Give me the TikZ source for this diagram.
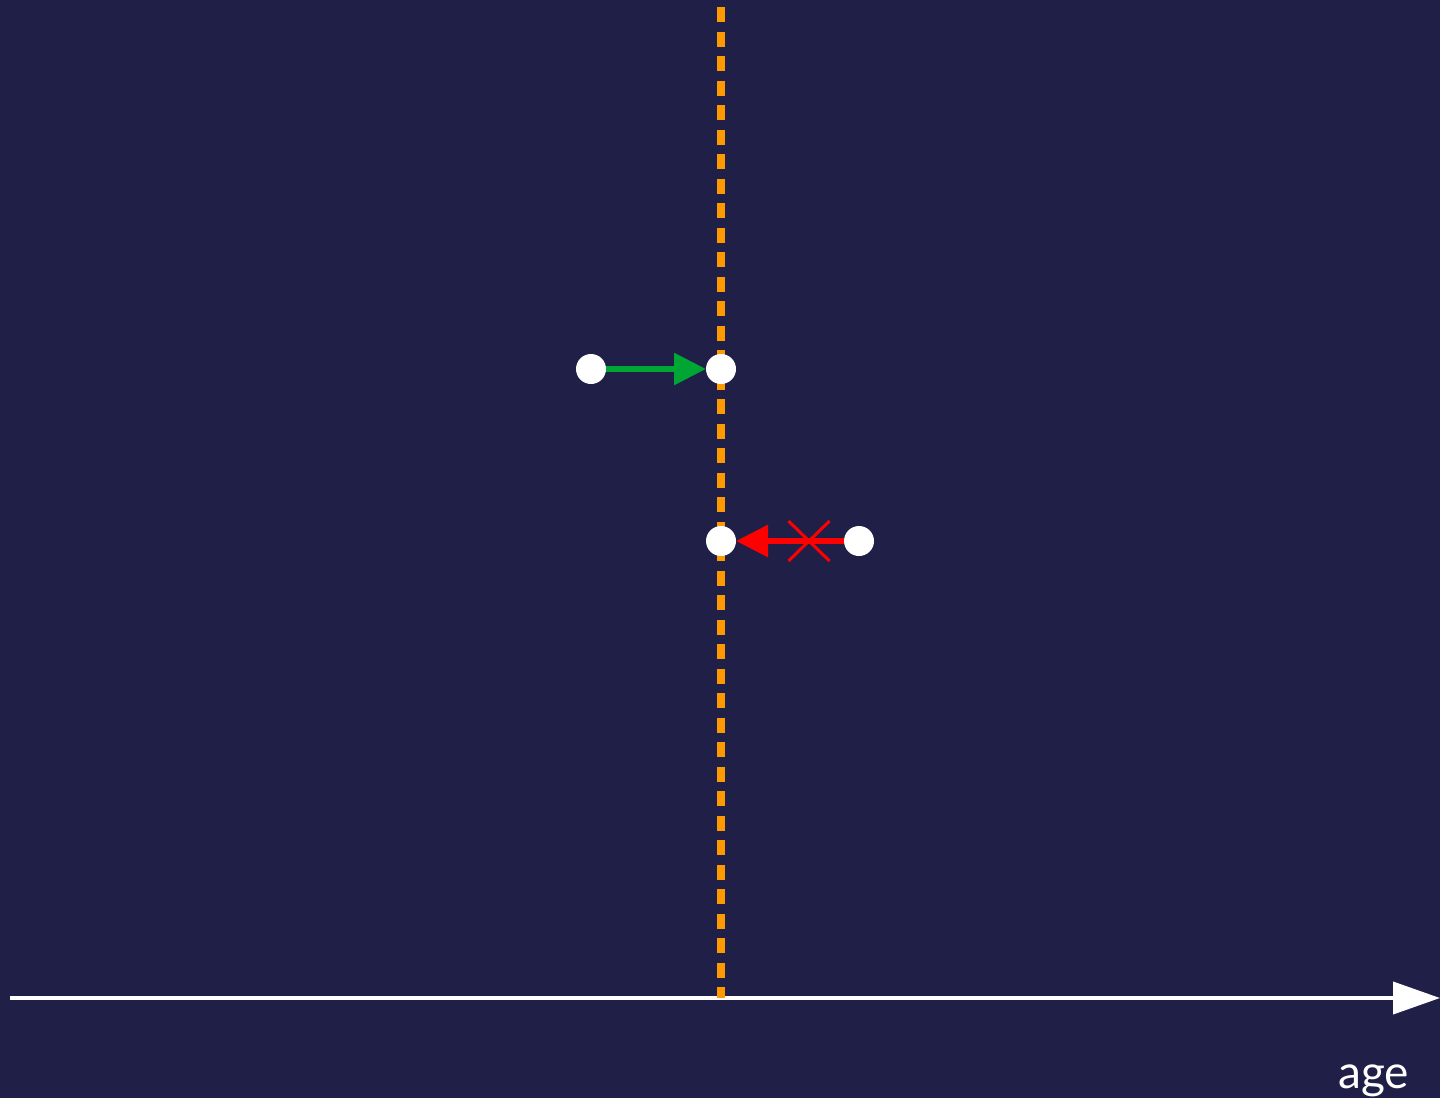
\documentclass[tikz,border=0pt]{standalone}
\usepackage{fontspec}
\setmainfont{Lato}
\usetikzlibrary{arrows.meta, shapes.misc}

\definecolor{navy}{RGB}{32,31,72}
\definecolor{cutoff}{RGB}{255,153,0}
\definecolor{okgreen}{RGB}{0,166,51}

\begin{document}
\begin{tikzpicture}[x=0.5pt, y=-0.5pt,
    person/.style={circle, fill=white, inner sep=0pt, outer sep=0pt, minimum size=15pt},
    move/.style={line width=3pt, -{Triangle[length=16pt, width=15.5pt]}}]
    \fill[navy] (0,0) rectangle (1440,1098);
    \useasboundingbox (0,0) rectangle (1440,1098);

    % age axis
    \coordinate (start) at (10,998);
    \coordinate (end) at (1440,998);
    \draw[white, line width=2pt, -{Triangle[length=23.5pt, width=16pt]}] (start) -- (end);
    \node[white, font=\fontsize{23}{27}\selectfont, anchor=base west, inner sep=0pt] (age) at (1338,1088) {age};

    % cut-off age
    \coordinate (top) at (721,7);
    \coordinate (bottom) at (721,998);
    \draw[cutoff, line width=4pt, dash pattern=on 7.5pt off 4.75pt] (top) -- (bottom);

    \node[person] (young) at (591,369) {};
    \node[person] (limit1) at (721,369) {};
    \node[person] (limit2) at (721,541) {};
    \node[person] (old) at (859,541) {};

    \draw[move, okgreen] (young) -- (limit1);
    \draw[move, red] (old) -- (limit2);
    \node[cross out, draw=red, line width=1.5pt, minimum width=19pt, minimum height=18.5pt,
        inner sep=0pt] (veto) at (809,541) {};
\end{tikzpicture}
\end{document}
